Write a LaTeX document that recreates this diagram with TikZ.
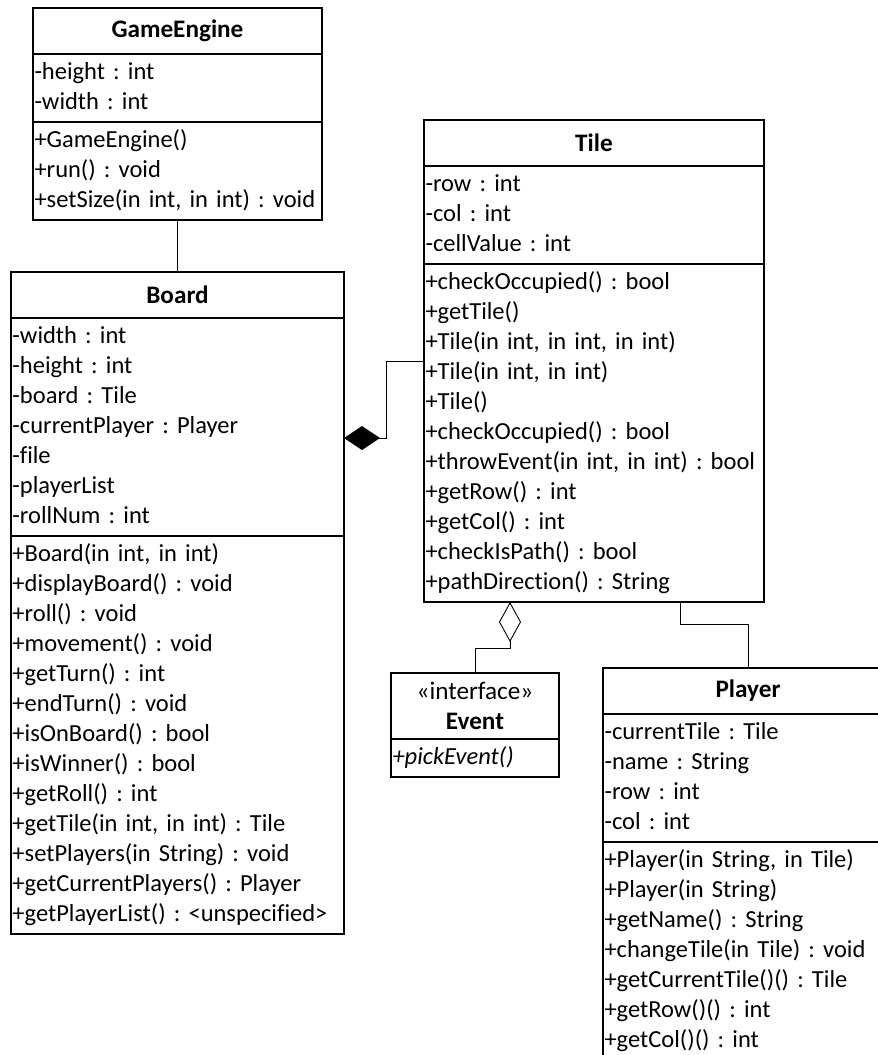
\documentclass[tikz,border=0pt]{standalone}
\usepackage{fontspec}
\setmainfont[Ligatures={NoCommon}]{Carlito}
\usetikzlibrary{positioning,arrows.meta}
\frenchspacing

\newcommand{\umlfont}{\fontsize{24.5}{30}\selectfont}
\newcommand{\umlheadfont}{\fontsize{25.2}{30}\selectfont\bfseries}

\tikzset{
  classhead/.style={draw, line width=1.6pt, outer sep=0pt, inner sep=0pt,
    text width=#1, align=center, minimum height=46pt, font=\umlheadfont},
  classpart/.style={draw, line width=1.6pt, outer sep=0pt, inner xsep=1.5pt,
    inner ysep=4pt, text width=#1, align=left,
    execute at begin node=\strut, execute at end node=\strut},
  assoc/.style={line width=0.9pt},
}

\begin{document}
\begin{tikzpicture}[x=1pt, y=-1pt, font=\umlfont]
\useasboundingbox (0,0) rectangle (878,1055);

% GameEngine
\node[classhead=289pt, anchor=north west] (gehead) at (33,8) {GameEngine};
\node[classpart=286pt, below=0pt of gehead] (geattr) {-height : int\\-width : int};
\node[classpart=286pt, below=0pt of geattr] (geops)
  {+GameEngine()\\+run() : void\\+setSize(in int, in int) : void};

% Board
\node[classhead=333pt, below=52pt of geops] (bdhead) {Board};
\node[classpart=330pt, below=0pt of bdhead] (bdattr)
  {-width : int\\-height : int\\-board : Tile\\-currentPlayer : Player\\-file\\-playerList\\-rollNum : int};
\node[classpart=330pt, below=0pt of bdattr] (bdops)
  {+Board(in int, in int)\\+displayBoard() : void\\+roll() : void\\+movement() : void\\+getTurn() : int\\+endTurn() : void\\+isOnBoard() : bool\\+isWinner() : bool\\+getRoll() : int\\+getTile(in int, in int) : Tile\\+setPlayers(in String) : void\\+getCurrentPlayers() : Player\\+getPlayerList() : <unspecified>};

% Tile
\node[classhead=340pt, anchor=north west] (tlhead) at (424,120) {Tile};
\node[classpart=337pt, below=0pt of tlhead] (tlattr) {-row : int\\-col : int\\-cellValue : int};
\node[classpart=337pt, below=0pt of tlattr] (tlops)
  {+checkOccupied() : bool\\+getTile()\\+Tile(in int, in int, in int)\\+Tile(in int, in int)\\+Tile()\\+checkOccupied() : bool\\+throwEvent(in int, in int) : bool\\+getRow() : int\\+getCol() : int\\+checkIsPath() : bool\\+pathDirection() : String};

% Event
\node[classhead=168pt, minimum height=66pt, anchor=north west] (evhead) at (391,673)
  {{\mdseries «interface»}\\Event};
\node[classpart=165pt, below=0pt of evhead] (evops) {\itshape +pickEvent()};

% Player
\node[classhead=290pt, anchor=north west] (plhead) at (603,668) {Player};
\node[classpart=287pt, below=0pt of plhead] (plattr)
  {-currentTile : Tile\\-name : String\\-row : int\\-col : int};
\node[classpart=287pt, below=0pt of plattr] (plops)
  {+Player(in String, in Tile)\\+Player(in String)\\+getName() : String\\+changeTile(in Tile) : void\\+getCurrentTile()() : Tile\\+getRow()() : int\\+getCol()() : int};

% connectors
\draw[assoc] (geops.south) -- (bdhead.north);

\coordinate (compat) at ([yshift=-120pt]bdattr.north east);
\coordinate (tlin) at ([yshift=-97pt]tlops.north west);
\draw[assoc, {Diamond[length=36pt,width=24pt]}-] (compat) -- ++(42pt,0pt) |- (tlin);

\coordinate (aggat) at ([xshift=86pt]tlops.south west);
\draw[assoc, {Diamond[open,length=40pt,width=22pt]}-] (aggat) -- ++(0pt,-46pt) -| (evhead.north);

\coordinate (plout) at ([xshift=256pt]tlops.south west);
\draw[assoc] (plout) -- ++(0pt,-22pt) -| (plhead.north);
\end{tikzpicture}
\end{document}
